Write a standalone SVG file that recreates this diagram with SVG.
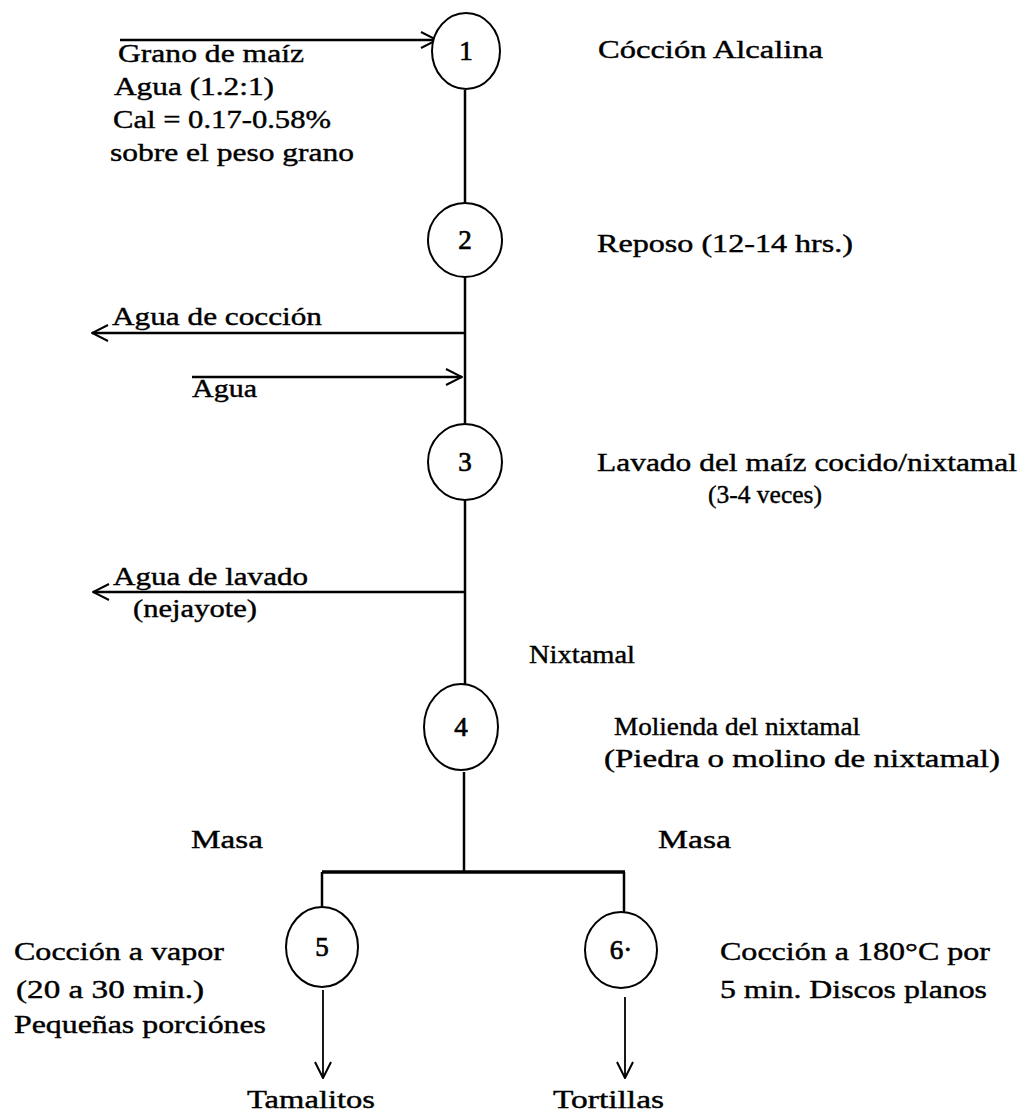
<svg xmlns="http://www.w3.org/2000/svg" width="1021" height="1117" viewBox="0 0 1021 1117">
<style>
text{font-family:"Liberation Serif","Times New Roman",serif;font-size:25px;fill:#000;stroke:#000;stroke-width:0.4}
.num{text-anchor:middle;font-size:27px;stroke-width:0.7}
.node ellipse{fill:#fff;stroke:#000;stroke-width:2}
.ln{stroke:#000;stroke-width:2.5;fill:none}
.thin{stroke:#000;stroke-width:1.8;fill:none}
</style>
<defs>
<marker id="ah" viewBox="0 0 18 18" refX="17" refY="9" markerWidth="18" markerHeight="18" markerUnits="userSpaceOnUse" orient="auto">
<path d="M1,1 L17,9 L1,17" fill="none" stroke="#000" stroke-width="2"/>
</marker>
</defs>
<rect width="1021" height="1117" fill="#fff"/>
<g id="connectors">
<line class="ln" x1="120" y1="40" x2="437" y2="40" marker-end="url(#ah)"/>
<line class="ln" x1="465" y1="90" x2="465" y2="203"/>
<line class="ln" x1="465" y1="277" x2="465" y2="424"/>
<line class="ln" x1="465" y1="333" x2="92" y2="333" marker-end="url(#ah)"/>
<line class="ln" x1="192" y1="377" x2="462" y2="377" marker-end="url(#ah)"/>
<line class="ln" x1="465" y1="500" x2="465" y2="684"/>
<line class="ln" x1="465" y1="592" x2="93" y2="592" marker-end="url(#ah)"/>
<line class="ln" x1="464" y1="772" x2="464" y2="872"/>
<line class="ln" x1="322" y1="872" x2="625" y2="872" style="stroke-width:3.5"/>
<line class="ln" x1="322" y1="872" x2="322" y2="908"/>
<line class="ln" x1="624" y1="872" x2="624" y2="913"/>
<line class="thin" x1="323" y1="990" x2="323" y2="1078" marker-end="url(#ah)"/>
<line class="thin" x1="625" y1="997" x2="625" y2="1078" marker-end="url(#ah)"/>
</g>
<g id="n1" class="node"><ellipse cx="466" cy="51" rx="34" ry="38"/><text class="num" x="466" y="60">1</text></g>
<g id="n2" class="node"><ellipse cx="465" cy="240" rx="37" ry="37"/><text class="num" x="465" y="249">2</text></g>
<g id="n3" class="node"><ellipse cx="465" cy="462" rx="37" ry="38"/><text class="num" x="465" y="471">3</text></g>
<g id="n4" class="node"><ellipse cx="461" cy="727" rx="37" ry="43"/><text class="num" x="461" y="736">4</text></g>
<g id="n5" class="node"><ellipse cx="322" cy="947" rx="36" ry="40"/><text class="num" x="322" y="956">5</text></g>
<g id="n6" class="node"><ellipse cx="621" cy="950" rx="36" ry="38"/><text class="num" x="621" y="959">6·</text></g>
<g id="labels">
<text x="118" y="62" textLength="186" lengthAdjust="spacingAndGlyphs">Grano de maíz</text>
<text x="114" y="95" textLength="160" lengthAdjust="spacingAndGlyphs">Agua (1.2:1)</text>
<text x="113" y="128" textLength="218" lengthAdjust="spacingAndGlyphs">Cal = 0.17-0.58%</text>
<text x="110" y="161" textLength="244" lengthAdjust="spacingAndGlyphs">sobre el peso grano</text>
<text x="598" y="58" textLength="225" lengthAdjust="spacingAndGlyphs">Cócción Alcalina</text>
<text x="597" y="252" textLength="256" lengthAdjust="spacingAndGlyphs">Reposo (12-14 hrs.)</text>
<text x="112" y="325" textLength="210" lengthAdjust="spacingAndGlyphs">Agua de cocción</text>
<text x="192" y="397" textLength="65" lengthAdjust="spacingAndGlyphs">Agua</text>
<text x="597" y="471" textLength="420" lengthAdjust="spacingAndGlyphs">Lavado del maíz cocido/nixtamal</text>
<text x="708" y="503" textLength="114" lengthAdjust="spacingAndGlyphs">(3-4 veces)</text>
<text x="113" y="585" textLength="195" lengthAdjust="spacingAndGlyphs">Agua de lavado</text>
<text x="133" y="617" textLength="124" lengthAdjust="spacingAndGlyphs">(nejayote)</text>
<text x="529" y="663" textLength="106" lengthAdjust="spacingAndGlyphs">Nixtamal</text>
<text x="614" y="735" textLength="246" lengthAdjust="spacingAndGlyphs">Molienda del nixtamal</text>
<text x="604" y="767" textLength="396" lengthAdjust="spacingAndGlyphs">(Piedra o molino de nixtamal)</text>
<text x="191" y="848" textLength="72" lengthAdjust="spacingAndGlyphs">Masa</text>
<text x="658" y="848" textLength="73" lengthAdjust="spacingAndGlyphs">Masa</text>
<text x="14" y="960" textLength="210" lengthAdjust="spacingAndGlyphs">Cocción a vapor</text>
<text x="16" y="998" textLength="188" lengthAdjust="spacingAndGlyphs">(20 a 30 min.)</text>
<text x="14" y="1033" textLength="252" lengthAdjust="spacingAndGlyphs">Pequeñas porciónes</text>
<text x="720" y="960" textLength="270" lengthAdjust="spacingAndGlyphs">Cocción a 180°C por</text>
<text x="720" y="998" textLength="267" lengthAdjust="spacingAndGlyphs">5 min. Discos planos</text>
<text x="247" y="1108" textLength="128" lengthAdjust="spacingAndGlyphs">Tamalitos</text>
<text x="553" y="1108" textLength="111" lengthAdjust="spacingAndGlyphs">Tortillas</text>
</g>
</svg>
